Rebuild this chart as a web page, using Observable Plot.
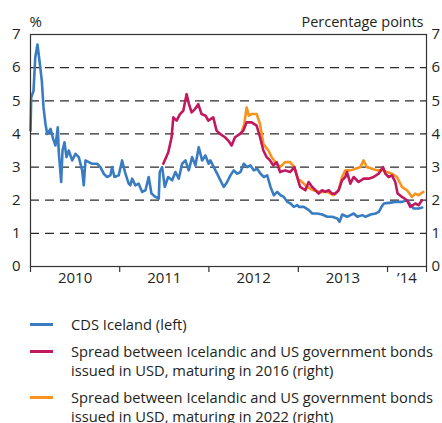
<!DOCTYPE html>
<html>
<head>
<meta charset="utf-8">
<script src="https://cdn.jsdelivr.net/npm/d3@7"></script>
<script src="https://cdn.jsdelivr.net/npm/@observablehq/plot@0.6"></script>
<style>
  body { margin: 0; background: #fff; font-family: "Open Sans", sans-serif; color: #231f20; }
  #chart { position: absolute; left: 0; top: 0; }
  #legend { position: absolute; left: 0; top: 315px; width: 442px; font-size: 14.7px; line-height: 19px; white-space: nowrap; }
  .item { position: relative; padding-left: 71px; margin-bottom: 8px; }
  .sw { position: absolute; left: 30px; top: 8px; width: 23px; height: 3px; }
</style>
</head>
<body>
<div id="chart"></div>
<div id="legend"></div>
<script>
// ---- Data (dates as decimal years) ----
const cdsTime = [2010.000,2010.008,2010.034,2010.053,2010.078,2010.101,2010.127,2010.146,
  2010.168,2010.187,2010.224,2010.254,2010.280,2010.306,2010.317,2010.344,2010.359,2010.381,2010.403,2010.429,2010.467,2010.504,2010.541,2010.579,2010.597,2010.616,2010.653,2010.691,2010.747,2010.784,2010.821,2010.859,2010.896,2010.915,2010.941,2010.989,2011.027,
  2011.064,2011.101,2011.120,2011.139,2011.176,2011.213,2011.252,2011.289,2011.325,2011.356,2011.401,2011.438,2011.449,2011.476,2011.505,2011.543,2011.588,2011.625,2011.662,2011.700,2011.737,2011.774,2011.812,2011.849,2011.886,2011.924,2011.961,2011.998,
  2012.017,2012.054,2012.092,2012.129,2012.166,2012.204,2012.241,2012.278,2012.316,2012.353,2012.390,2012.428,2012.465,2012.502,2012.540,2012.577,2012.614,2012.652,2012.689,2012.726,2012.764,2012.801,2012.838,2012.876,2012.913,2012.950,2012.988,
  2013.006,2013.062,2013.118,2013.156,2013.212,2013.268,2013.324,2013.380,2013.436,2013.462,2013.492,2013.548,2013.585,2013.622,2013.661,2013.717,2013.754,2013.810,2013.866,2013.903,2013.933,2013.959,2014.015,2014.090,2014.165,2014.221,2014.258,2014.295,2014.351,2014.389];
const cdsValue = [4.1,5.1,5.3,6.3,6.7,6.2,5.6,4.8,
  4.3,4.0,4.15,3.85,3.65,4.2,3.45,2.55,3.5,3.75,3.3,3.5,3.2,3.4,3.3,2.9,2.45,3.2,3.15,3.1,3.1,3.0,2.8,2.7,2.75,3.0,2.7,2.75,3.2,
  2.8,2.5,2.45,2.65,2.45,2.5,2.25,2.3,2.7,2.2,2.1,2.05,2.85,3.0,2.4,2.7,2.6,2.85,2.65,3.1,3.2,2.9,3.3,3.05,3.6,3.2,3.35,3.1,
  3.2,3.0,2.8,2.6,2.4,2.55,2.75,2.9,2.8,2.85,3.1,3.0,3.05,2.9,2.95,2.8,2.7,2.75,2.4,2.15,2.25,2.15,2.1,1.95,1.9,1.8,1.85,
  1.8,1.8,1.7,1.6,1.6,1.57,1.5,1.5,1.45,1.35,1.57,1.5,1.55,1.6,1.5,1.55,1.5,1.57,1.6,1.65,1.8,1.9,1.92,1.95,1.95,2.0,1.85,1.75,1.75,1.78];

const bond2016Time = [2011.489,2011.545,2011.582,2011.601,2011.638,2011.676,2011.713,2011.750,2011.777,2011.806,2011.844,2011.881,2011.918,2011.963,2011.993,2012.049,2012.086,2012.124,2012.180,2012.217,2012.254,2012.292,2012.348,2012.385,2012.422,2012.478,2012.534,2012.572,2012.609,2012.646,2012.684,2012.721,2012.758,2012.796,2012.852,2012.908,2012.956,2012.982,2013.020,2013.079,2013.116,2013.155,2013.192,2013.228,2013.266,2013.303,2013.340,2013.378,2013.415,2013.452,2013.490,2013.527,2013.546,2013.583,2013.620,2013.676,2013.732,2013.788,2013.844,2013.900,2013.950,2013.975,2014.012,2014.050,2014.087,2014.113,2014.162,2014.218,2014.255,2014.311,2014.348,2014.386];
const bond2016Value = [3.1,3.45,3.9,4.5,4.4,4.6,4.7,5.2,4.9,4.65,4.75,4.9,4.6,4.55,4.4,4.5,4.1,4.0,3.9,3.8,3.65,3.9,4.0,4.1,4.35,4.35,4.25,3.9,3.5,3.3,3.2,3.05,3.15,2.85,2.9,2.85,3.0,2.75,2.4,2.3,2.55,2.4,2.3,2.2,2.3,2.25,2.3,2.2,2.2,2.3,2.6,2.7,2.85,2.5,2.7,2.55,2.65,2.65,2.7,2.8,3.0,2.8,2.7,2.75,2.55,2.2,2.1,2.0,1.8,1.9,1.85,2.0];

const bond2022Time = [2012.366,2012.396,2012.422,2012.447,2012.478,2012.534,2012.572,2012.609,2012.665,2012.702,2012.740,2012.796,2012.852,2012.908,2012.956,2013.001,2013.024,2013.098,2013.169,2013.248,2013.323,2013.396,2013.452,2013.490,2013.527,2013.583,2013.639,2013.695,2013.732,2013.766,2013.827,2013.883,2013.938,2013.994,2014.050,2014.106,2014.162,2014.218,2014.274,2014.311,2014.348,2014.401];
const bond2022Value = [4.05,4.3,4.8,4.55,4.6,4.6,4.3,3.7,3.5,3.3,3.15,3.0,3.15,3.15,3.0,2.6,2.6,2.4,2.3,2.25,2.25,2.15,2.3,2.7,2.9,2.9,2.95,3.0,3.2,3.0,2.95,2.9,2.9,2.85,2.8,2.7,2.4,2.3,2.1,2.2,2.15,2.25];

const yTicks = [0,1,2,3,4,5,6,7];
const gridValues = [1,2,3,4,5,6];
const yearBoundaries = [2010, 2011, 2012, 2013, 2014, 2014.437];
const yearLabelPos = [2010.5, 2011.5, 2012.5, 2013.5, 2014.218];
const yearLabels = ["2010", "2011", "2012", "2013", "\u201914"];
const xDomain = [2010, 2014.437];

const seriesNames = [
  "CDS Iceland (left)",
  "Spread between Icelandic and US government bonds issued in USD, maturing in 2016 (right)",
  "Spread between Icelandic and US government bonds issued in USD, maturing in 2022 (right)"
];
const seriesColors = ["#3a7cc2", "#c2185e", "#f7941d"];
const leftTitle = "%";
const rightTitle = "Percentage points";

// ---- helpers ----
function toDate(t) {
  const y = Math.floor(t);
  const a = Date.UTC(y, 0, 1), b = Date.UTC(y + 1, 0, 1);
  return new Date(a + (t - y) * (b - a));
}
const zip = (ts, vs) => ts.map((t, i) => ({date: toDate(t), value: vs[i]}));
const cds = zip(cdsTime, cdsValue);
const b16 = zip(bond2016Time, bond2016Value);
const b22 = zip(bond2022Time, bond2022Value);
const labelMap = new Map(yearLabelPos.map((t, i) => [+toDate(t), yearLabels[i]]));

const ink = "#231f20";
const chart = Plot.plot({
  width: 442,
  height: 300,
  marginLeft: 30,
  marginRight: 16,
  marginTop: 34,
  marginBottom: 34,
  style: {fontFamily: "Open Sans, sans-serif", fontSize: "15px", color: ink, background: "white", overflow: "visible"},
  x: {type: "utc", domain: xDomain.map(toDate)},
  y: {domain: [0, 7]},
  marks: [
    Plot.ruleY(gridValues, {stroke: "#2b2b2b", strokeWidth: 1.2, strokeDasharray: "9,6"}),
    Plot.line(cds, {x: "date", y: "value", stroke: seriesColors[0], strokeWidth: 2.6, strokeLinejoin: "round"}),
    Plot.line(b22, {x: "date", y: "value", stroke: seriesColors[2], strokeWidth: 2.6, strokeLinejoin: "round"}),
    Plot.line(b16, {x: "date", y: "value", stroke: seriesColors[1], strokeWidth: 2.6, strokeLinejoin: "round"}),
    Plot.frame({stroke: "#333", strokeWidth: 1.2}),
    Plot.axisY({anchor: "left", ticks: yTicks, tickSize: 0, tickPadding: 10, tickFormat: d => String(d), label: null, fontSize: 15}),
    Plot.axisY({anchor: "right", ticks: yTicks, tickSize: 0, tickPadding: 5, tickFormat: d => String(d), label: null, fontSize: 15}),
    Plot.axisX({ticks: yearBoundaries.map(toDate), tickSize: 6, tickFormat: () => "", label: null, stroke: "#333", strokeWidth: 1.2}),
    Plot.axisX({ticks: yearLabelPos.map(toDate), tickSize: 0, tickPadding: 6, tickFormat: d => labelMap.get(+d), label: null, fontSize: 15}),
    Plot.text([leftTitle], {frameAnchor: "top-left", dx: -1, dy: -8, textAnchor: "start", lineAnchor: "bottom", fontSize: 15, fill: ink}),
    Plot.text([rightTitle], {frameAnchor: "top-right", dx: -3, dy: -8, textAnchor: "end", lineAnchor: "bottom", fontSize: 14.5, fill: ink})
  ]
});
document.getElementById("chart").appendChild(chart);

const legend = document.getElementById("legend");
seriesNames.forEach((name, i) => {
  const div = document.createElement("div");
  div.className = "item";
  const sw = document.createElement("span");
  sw.className = "sw";
  sw.style.background = seriesColors[i];
  div.appendChild(sw);
  const txt = document.createElement("div");
  txt.style.whiteSpace = "normal";
  txt.style.width = "368px";
  txt.textContent = name;
  div.appendChild(txt);
  legend.appendChild(div);
});
</script>
</body>
</html>
